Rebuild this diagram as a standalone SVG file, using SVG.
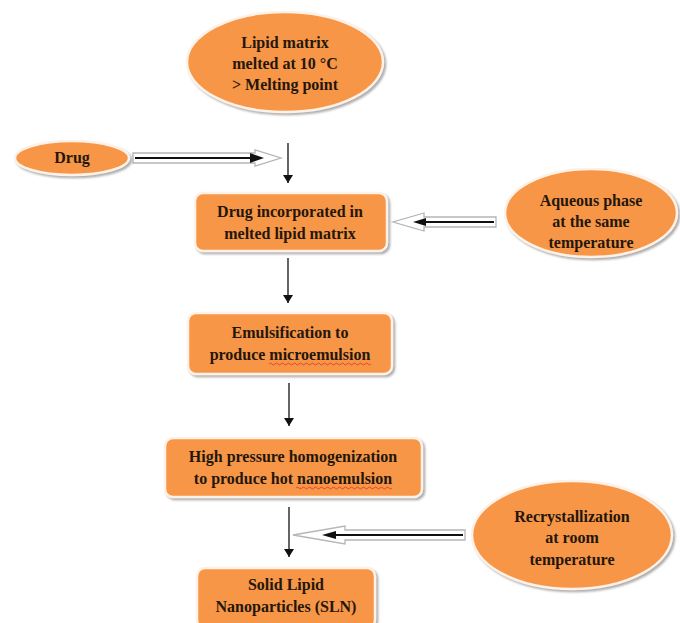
<svg xmlns="http://www.w3.org/2000/svg" width="680" height="623" viewBox="0 0 680 623">
<defs>
<style>
.shape{fill:#F79646;stroke:#FDF1E8;stroke-width:2.5;filter:url(#sh)}
.t{font-family:"Liberation Serif",serif;font-size:16px;font-weight:bold;fill:#24160c;text-anchor:middle}
.vline{stroke:#111;stroke-width:1.3;fill:none;marker-end:url(#ah)}
.blk{fill:#fff;stroke:#b5b5b5;stroke-width:1.3}
.inner{stroke:#111;stroke-width:2;fill:none}
.sq{fill:none;stroke:#e03030;stroke-width:0.8}
</style>
<filter id="sh" x="-10%" y="-10%" width="125%" height="130%">
<feDropShadow dx="2" dy="2" stdDeviation="1.2" flood-color="#8a8a8a" flood-opacity="0.7"/>
</filter>
<marker id="ah" markerWidth="10" markerHeight="10" refX="8" refY="5" orient="auto" markerUnits="userSpaceOnUse">
<path d="M0,0 L8,5 L0,10 Z" fill="#111"/>
</marker>
</defs>
<rect width="680" height="623" fill="#fff"/>

<g id="connectors">
<line class="vline" x1="288" y1="143" x2="288" y2="183"/>
<line class="vline" x1="288" y1="258" x2="288" y2="303"/>
<line class="vline" x1="289" y1="383" x2="289" y2="426"/>
<line class="vline" x1="289" y1="507" x2="289" y2="557"/>
<g id="arrow-drug">
<path class="blk" d="M133,153 L255,153 L255,150 L281,158 L255,166 L255,163 L133,163 Z"/>
<line class="inner" x1="135" y1="158" x2="252" y2="158"/>
<path d="M250,153 L264,158 L250,163 Z" fill="#111"/>
</g>
<g id="arrow-aqueous">
<path class="blk" d="M496,217 L424,217 L424,213 L393,222 L424,231 L424,227 L496,227 Z"/>
<line class="inner" x1="494" y1="222" x2="424" y2="222"/>
<path d="M426,218 L413,222 L426,226 Z" fill="#111"/>
</g>
<g id="arrow-recryst">
<path class="blk" d="M465,530 L345,530 L345,526 L293,535 L345,544 L345,540 L465,540 Z"/>
<line class="inner" x1="463" y1="535" x2="334" y2="535"/>
<path d="M336,531 L322,535 L336,539 Z" fill="#111"/>
</g>
</g>

<g id="lipid-matrix">
<ellipse class="shape" cx="285" cy="62" rx="98" ry="50"/>
<text class="t" x="285" y="48">Lipid matrix</text>
<text class="t" x="285" y="69">melted at 10 °C</text>
<text class="t" x="285" y="90">&gt; Melting point</text>
</g>

<g id="drug">
<ellipse class="shape" cx="72" cy="158" rx="57" ry="17"/>
<text class="t" x="72" y="163">Drug</text>
</g>

<g id="drug-incorporated">
<rect class="shape" x="195" y="193" width="192" height="58" rx="8"/>
<text class="t" x="290" y="217">Drug incorporated in</text>
<text class="t" x="290" y="239">melted lipid matrix</text>
</g>

<g id="aqueous">
<ellipse class="shape" cx="591" cy="213" rx="86" ry="44"/>
<text class="t" x="591" y="206">Aqueous phase</text>
<text class="t" x="591" y="227">at the same</text>
<text class="t" x="591" y="248">temperature</text>
</g>

<g id="emulsification">
<rect class="shape" x="188" y="313" width="204" height="61" rx="8"/>
<text class="t" x="290" y="338">Emulsification to</text>
<text class="t" x="290" y="360">produce microemulsion</text>
<path class="sq" d="M269,364 q1.5,-2 3,0 t3,0 t3,0 t3,0 t3,0 t3,0 t3,0 t3,0 t3,0 t3,0 t3,0 t3,0 t3,0 t3,0 t3,0 t3,0 t3,0 t3,0 t3,0 t3,0 t3,0 t3,0 t3,0 t3,0 t3,0 t3,0 t3,0 t3,0 t3,0 t3,0 t3,0 t3,0 t3,0 t3,0"/>
</g>

<g id="homogenization">
<rect class="shape" x="165" y="438" width="257" height="59" rx="8"/>
<text class="t" x="293" y="462">High pressure homogenization</text>
<text class="t" x="293" y="484">to produce hot nanoemulsion</text>
<path class="sq" d="M296,488 q1.5,-2 3,0 t3,0 t3,0 t3,0 t3,0 t3,0 t3,0 t3,0 t3,0 t3,0 t3,0 t3,0 t3,0 t3,0 t3,0 t3,0 t3,0 t3,0 t3,0 t3,0 t3,0 t3,0 t3,0 t3,0 t3,0 t3,0 t3,0 t3,0 t3,0 t3,0 t3,0 t3,0"/>
</g>

<g id="recrystallization">
<ellipse class="shape" cx="572" cy="535" rx="100" ry="54"/>
<text class="t" x="572" y="522">Recrystallization</text>
<text class="t" x="572" y="543">at room</text>
<text class="t" x="572" y="565">temperature</text>
</g>

<g id="sln">
<rect class="shape" x="197" y="568" width="178" height="60" rx="8"/>
<text class="t" x="286" y="590">Solid Lipid</text>
<text class="t" x="286" y="612">Nanoparticles (SLN)</text>
</g>
</svg>
